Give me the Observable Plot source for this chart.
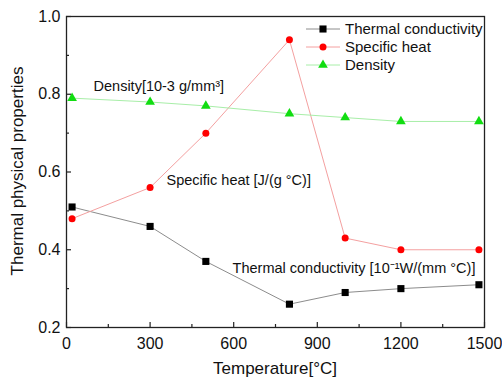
<!DOCTYPE html>
<html><head><meta charset="utf-8">
<script src="https://cdn.jsdelivr.net/npm/d3@7"></script>
<script src="https://cdn.jsdelivr.net/npm/@observablehq/plot@0.6"></script>
<style>
html,body{margin:0;padding:0;background:#fff;}
#wrap{position:relative;width:502px;height:381px;font-family:"Liberation Sans",Arial,sans-serif;}
#legend{position:absolute;left:305px;top:20px;font-size:15px;line-height:18px;color:#111;}
#legend .row{display:flex;align-items:center;height:18px;}
#legend svg{margin-right:4px;}
</style>
</head><body>
<div id="wrap"><div id="legend"></div></div>
<script>
const temperature = [20, 300, 500, 800, 1000, 1200, 1480];
const thermalConductivity = [0.51, 0.46, 0.37, 0.26, 0.29, 0.30, 0.31];
const specificHeat = [0.48, 0.56, 0.70, 0.94, 0.43, 0.40, 0.40];
const density = [0.79, 0.78, 0.77, 0.75, 0.74, 0.73, 0.73];
const seriesNames = ["Thermal conductivity", "Specific heat", "Density"];
const xTicks = [0, 300, 600, 900, 1200, 1500];
const xMinor = [150, 450, 750, 1050, 1350];
const yTicks = [0.2, 0.4, 0.6, 0.8, 1.0];
const yMinor = [0.3, 0.5, 0.7, 0.9];
const annoText = ["Density[10-3 g/mm³]", "Specific heat [J/(g °C)]", "Thermal conductivity [10⁻¹W/(mm °C)]"];
const annoX = [97, 359, 596];
const annoY = [0.82, 0.578, 0.352];

const styles = [
  {line: "#8c8c8c", fill: "#000", symbol: "square", r: 4},
  {line: "#f4a0a0", fill: "#f00", symbol: "circle", r: 3.5},
  {line: "#a8eea8", fill: "#11dd11", symbol: "triangle", r: 3.6}
];
const valuesBySeries = [thermalConductivity, specificHeat, density];
const rows = [];
valuesBySeries.forEach((vals, s) => vals.forEach((v, i) => rows.push({series: seriesNames[s], s, x: temperature[i], y: v})));
const annos = annoText.map((t, i) => ({t, x: annoX[i], y: annoY[i]}));

const marks = [
  Plot.frame({stroke: "#222", strokeWidth: 1.3}),
  Plot.axisX({ticks: xTicks, tickSize: 0, tickPadding: 10, fontSize: 16, tickFormat: d3.format("d"), label: null}),
  Plot.axisY({ticks: yTicks, tickSize: 0, tickPadding: 6, fontSize: 16, tickFormat: d3.format(".1f"), label: null}),
  Plot.tickX(xTicks, {x: d => d, insetTop: 311 - 5, stroke: "#222", strokeWidth: 1.2}),
  Plot.tickX(xMinor, {x: d => d, insetTop: 311 - 3, stroke: "#222", strokeWidth: 1.2}),
  Plot.tickY(yTicks, {y: d => d, insetRight: 418 - 5, stroke: "#222", strokeWidth: 1.2}),
  Plot.tickY(yMinor, {y: d => d, insetRight: 418 - 3, stroke: "#222", strokeWidth: 1.2}),
];
styles.forEach((st, s) => {
  const data = rows.filter(d => d.s === s);
  marks.push(Plot.line(data, {x: "x", y: "y", stroke: st.line, strokeWidth: 1}));
});
styles.forEach((st, s) => {
  const data = rows.filter(d => d.s === s);
  marks.push(Plot.dot(data, {x: "x", y: "y", symbol: () => st.symbol, fill: st.fill, stroke: "none", r: st.r}));
});
marks.push(Plot.text(annos, {x: "x", y: "y", text: "t", textAnchor: "start", fontSize: 14.5, fill: "#111"}));

const chart = Plot.plot({
  width: 502, height: 381,
  marginLeft: 66, marginRight: 18, marginTop: 16, marginBottom: 54,
  style: {fontFamily: "Liberation Sans, Arial, sans-serif", fontSize: "16px", color: "#111", background: "#fff"},
  x: {domain: [0, 1500]},
  y: {domain: [0.2, 1.0]},
  symbol: {type: "identity"},
  marks
});
const wrap = document.getElementById("wrap");
wrap.insertBefore(chart, wrap.firstChild);

// axis titles
const svg = d3.select(chart);
svg.append("text").attr("x", 275).attr("y", 374).attr("text-anchor", "middle")
  .attr("font-size", 17).attr("fill", "#111").text("Temperature[°C]");
svg.append("text").attr("transform", "translate(23,171) rotate(-90)").attr("text-anchor", "middle")
  .attr("font-size", 17).attr("fill", "#111").text("Thermal physical properties");

// legend
const legend = d3.select("#legend");
styles.forEach((st, s) => {
  const row = legend.append("div").attr("class", "row");
  const sv = row.append("svg").attr("width", 36).attr("height", 12);
  sv.append("line").attr("x1", 1).attr("x2", 35).attr("y1", 6).attr("y2", 6).attr("stroke", st.line);
  sv.append("path").attr("transform", "translate(18,6)")
    .attr("d", d3.symbol(st.symbol === "square" ? d3.symbolSquare : st.symbol === "circle" ? d3.symbolCircle : d3.symbolTriangle, Math.PI * st.r * st.r)())
    .attr("fill", st.fill);
  row.append("span").text(seriesNames[s]);
});
</script>
</body></html>
